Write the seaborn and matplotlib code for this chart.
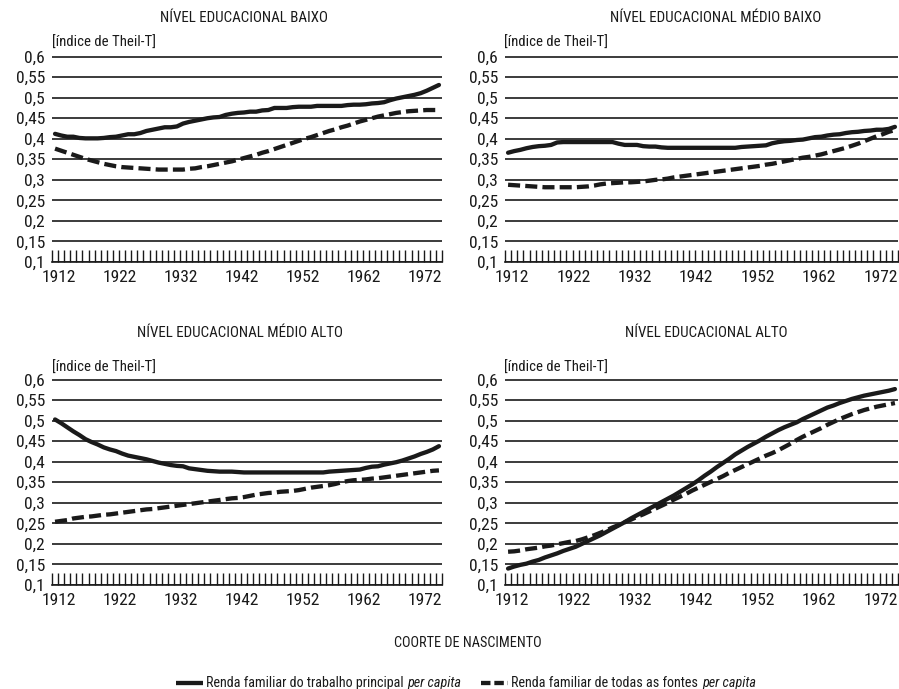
import numpy as np
import pandas as pd
import matplotlib
matplotlib.use("Agg")
import matplotlib.pyplot as plt
from matplotlib import font_manager
from matplotlib.lines import Line2D
from matplotlib.transforms import ScaledTranslation
import seaborn as sns

# ---------------- data ----------------
years = list(range(1912, 1976))

titles = ["NÍVEL EDUCACIONAL BAIXO", "NÍVEL EDUCACIONAL MÉDIO BAIXO",
          "NÍVEL EDUCACIONAL MÉDIO ALTO", "NÍVEL EDUCACIONAL ALTO"]
series_names = ["Renda familiar do trabalho principal per capita",
                "Renda familiar de todas as fontes per capita"]
legend_main = ["Renda familiar do trabalho principal", "Renda familiar de todas as fontes"]
legend_italic = "per capita"
y_unit = "[índice de Theil-T]"
x_title = "COORTE DE NASCIMENTO"
y_ticks = [0.1, 0.15, 0.2, 0.25, 0.3, 0.35, 0.4, 0.45, 0.5, 0.55, 0.6]
y_tick_labels = ["0,1", "0,15", "0,2", "0,25", "0,3", "0,35", "0,4", "0,45", "0,5", "0,55", "0,6"]
x_tick_years = [1912, 1922, 1932, 1942, 1952, 1962, 1972]

baixo_principal = [
    0.412, 0.408, 0.405, 0.405, 0.402, 0.401, 0.401, 0.401, 0.402, 0.404,
    0.405, 0.408, 0.411, 0.411, 0.414, 0.419, 0.422, 0.425, 0.428, 0.428,
    0.430, 0.437, 0.441, 0.444, 0.447, 0.450, 0.452, 0.453, 0.458, 0.461,
    0.463, 0.464, 0.466, 0.466, 0.469, 0.470, 0.475, 0.475, 0.475, 0.477,
    0.478, 0.478, 0.478, 0.480, 0.480, 0.480, 0.480, 0.480, 0.482, 0.483,
    0.483, 0.484, 0.486, 0.487, 0.489, 0.494, 0.498, 0.501, 0.504, 0.507,
    0.511, 0.517, 0.524, 0.531]
baixo_todas = [
    0.376, 0.371, 0.366, 0.361, 0.356, 0.351, 0.347, 0.343, 0.339, 0.336,
    0.333, 0.331, 0.330, 0.329, 0.328, 0.327, 0.326, 0.325, 0.325, 0.325,
    0.325, 0.325, 0.327, 0.328, 0.331, 0.333, 0.336, 0.339, 0.342, 0.345,
    0.349, 0.353, 0.357, 0.361, 0.366, 0.370, 0.375, 0.380, 0.385, 0.390,
    0.395, 0.400, 0.404, 0.409, 0.414, 0.419, 0.423, 0.428, 0.432, 0.437,
    0.442, 0.446, 0.450, 0.454, 0.457, 0.460, 0.463, 0.465, 0.467, 0.468,
    0.469, 0.470, 0.470, 0.470]

medio_baixo_principal = [
    0.366, 0.370, 0.373, 0.377, 0.380, 0.382, 0.383, 0.385, 0.391, 0.392,
    0.392, 0.392, 0.392, 0.392, 0.392, 0.392, 0.392, 0.392, 0.388, 0.385,
    0.385, 0.385, 0.382, 0.381, 0.381, 0.379, 0.378, 0.378, 0.378, 0.378,
    0.378, 0.378, 0.378, 0.378, 0.378, 0.378, 0.378, 0.378, 0.380, 0.381,
    0.382, 0.383, 0.384, 0.389, 0.392, 0.394, 0.395, 0.397, 0.398, 0.401,
    0.404, 0.405, 0.408, 0.410, 0.411, 0.414, 0.416, 0.417, 0.419, 0.420,
    0.422, 0.422, 0.424, 0.429]
medio_baixo_todas = [
    0.288, 0.287, 0.286, 0.285, 0.284, 0.283, 0.282, 0.282, 0.282, 0.282,
    0.282, 0.282, 0.283, 0.284, 0.286, 0.289, 0.291, 0.292, 0.293, 0.294,
    0.294, 0.295, 0.296, 0.298, 0.300, 0.301, 0.303, 0.306, 0.308, 0.310,
    0.312, 0.314, 0.316, 0.318, 0.320, 0.322, 0.324, 0.326, 0.328, 0.330,
    0.332, 0.334, 0.337, 0.339, 0.342, 0.345, 0.348, 0.351, 0.354, 0.356,
    0.359, 0.362, 0.366, 0.370, 0.374, 0.378, 0.383, 0.388, 0.394, 0.400,
    0.406, 0.411, 0.417, 0.421]

medio_alto_principal = [
    0.503, 0.494, 0.484, 0.474, 0.465, 0.455, 0.448, 0.442, 0.435, 0.430,
    0.426, 0.420, 0.415, 0.412, 0.409, 0.406, 0.402, 0.398, 0.395, 0.392,
    0.390, 0.389, 0.384, 0.382, 0.380, 0.378, 0.377, 0.376, 0.376, 0.376,
    0.375, 0.374, 0.374, 0.374, 0.374, 0.374, 0.374, 0.374, 0.374, 0.374,
    0.374, 0.374, 0.374, 0.374, 0.374, 0.376, 0.377, 0.378, 0.379, 0.380,
    0.381, 0.385, 0.388, 0.389, 0.393, 0.396, 0.399, 0.403, 0.408, 0.413,
    0.419, 0.424, 0.430, 0.438]
medio_alto_todas = [
    0.254, 0.256, 0.258, 0.262, 0.264, 0.266, 0.267, 0.269, 0.271, 0.272,
    0.274, 0.276, 0.278, 0.280, 0.282, 0.284, 0.285, 0.287, 0.289, 0.291,
    0.293, 0.295, 0.297, 0.299, 0.301, 0.303, 0.305, 0.307, 0.309, 0.311,
    0.312, 0.314, 0.317, 0.320, 0.322, 0.324, 0.325, 0.327, 0.328, 0.329,
    0.331, 0.334, 0.337, 0.339, 0.341, 0.343, 0.346, 0.350, 0.353, 0.355,
    0.356, 0.357, 0.359, 0.360, 0.362, 0.364, 0.366, 0.368, 0.370, 0.372,
    0.374, 0.376, 0.378, 0.379]

alto_principal = [
    0.140, 0.145, 0.149, 0.152, 0.157, 0.161, 0.167, 0.172, 0.177, 0.183,
    0.188, 0.193, 0.200, 0.207, 0.214, 0.221, 0.229, 0.237, 0.245, 0.253,
    0.262, 0.270, 0.278, 0.286, 0.294, 0.302, 0.310, 0.318, 0.327, 0.336,
    0.345, 0.355, 0.366, 0.376, 0.387, 0.397, 0.407, 0.418, 0.427, 0.436,
    0.444, 0.452, 0.461, 0.469, 0.477, 0.484, 0.490, 0.496, 0.504, 0.511,
    0.518, 0.525, 0.532, 0.537, 0.543, 0.548, 0.553, 0.557, 0.561, 0.564,
    0.567, 0.570, 0.573, 0.577]
alto_todas = [
    0.181, 0.182, 0.184, 0.187, 0.189, 0.191, 0.194, 0.196, 0.199, 0.202,
    0.205, 0.207, 0.211, 0.216, 0.221, 0.227, 0.233, 0.240, 0.246, 0.253,
    0.259, 0.266, 0.272, 0.279, 0.286, 0.293, 0.300, 0.308, 0.315, 0.322,
    0.330, 0.337, 0.344, 0.351, 0.358, 0.365, 0.373, 0.380, 0.387, 0.394,
    0.401, 0.408, 0.415, 0.421, 0.428, 0.436, 0.444, 0.453, 0.461, 0.468,
    0.475, 0.482, 0.490, 0.497, 0.504, 0.510, 0.516, 0.521, 0.526, 0.530,
    0.534, 0.537, 0.540, 0.543]

panels = [
    (baixo_principal, baixo_todas),
    (medio_baixo_principal, medio_baixo_todas),
    (medio_alto_principal, medio_alto_todas),
    (alto_principal, alto_todas),
]

# ---------------- style ----------------
sns.set_theme(style="white")
available = {f.name for f in font_manager.fontManager.ttflist}
narrow_candidates = ["Liberation Sans Narrow", "Roboto Condensed", "Open Sans Condensed",
                     "DejaVu Sans Condensed"]
chosen = next((c for c in narrow_candidates if c in available), None)
if chosen is not None:
    FS = dict(tick=12.6, title=10.8, unit=10.6, xt=10.3, leg=10.2)
else:
    chosen = "Open Sans" if "Open Sans" in available else "DejaVu Sans"
    FS = dict(tick=11.0, title=9.9, unit=9.6, xt=9.4, leg=9.0)

plt.rcParams["font.family"] = [chosen, "DejaVu Sans"]
INK = "#1a1a1a"
plt.rcParams["text.color"] = INK

W, H = 899, 689
fig = plt.figure(figsize=(W / 100, H / 100), dpi=100)

def box(x0, x1, ytop, ybot):
    return [x0 / W, 1 - ybot / H, (x1 - x0) / W, (ybot - ytop) / H]

ax_boxes = [box(52, 442, 56, 262), box(505, 898, 56, 262),
            box(52, 442, 379, 585), box(505, 898, 379, 585)]
title_pos = [(244, 18), (716, 18), (240, 333), (706, 333)]
unit_pos = [(52, 43), (504, 43), (52, 368), (504, 368)]

LW = 3.1
DASH = (2.8, 1.2)
style_dashes = {series_names[0]: "", series_names[1]: DASH}

for i, (vals_a, vals_b) in enumerate(panels):
    ax = fig.add_axes(ax_boxes[i])
    df = pd.DataFrame({
        "ano": years + years,
        "theil": list(vals_a) + list(vals_b),
        "serie": [series_names[0]] * len(years) + [series_names[1]] * len(years),
    })
    sns.lineplot(data=df, x="ano", y="theil", style="serie",
                 style_order=series_names, dashes=style_dashes,
                 color=INK, linewidth=LW, legend=False, ax=ax, zorder=3)
    ax.set_xlim(1911.5, 1975.5)
    ax.set_ylim(0.1, 0.6015)
    ax.set_yticks(y_ticks)
    ax.set_yticklabels(y_tick_labels)
    ax.set_xticks(x_tick_years)
    ax.set_xticklabels([str(y) for y in x_tick_years])
    ax.set_xticks([y - 0.5 for y in years] + [years[-1] + 0.5], minor=True)
    ax.tick_params(axis="y", length=0, pad=5, labelsize=FS["tick"], labelcolor=INK)
    ax.tick_params(axis="x", which="major", length=0, pad=6, labelsize=FS["tick"],
                   labelcolor=INK)
    ax.tick_params(axis="x", which="minor", direction="in", length=8.5,
                   width=1.0, color=INK, bottom=True)
    ax.set_xlabel("")
    ax.set_ylabel("")
    ax.yaxis.grid(True, color=INK, linewidth=1.2)
    ax.xaxis.grid(False)
    for s in ["top", "left", "right"]:
        ax.spines[s].set_visible(False)
    ax.spines["bottom"].set_color(INK)
    ax.spines["bottom"].set_linewidth(1.2)
    ax.set_facecolor("white")
    off = ScaledTranslation(0.04, 0, fig.dpi_scale_trans)
    for lab in ax.get_xticklabels():
        lab.set_transform(lab.get_transform() + off)

    tx, ty = title_pos[i]
    fig.text(tx / W, 1 - ty / H, titles[i], ha="center", va="center", fontsize=FS["title"])
    ux, uy = unit_pos[i]
    fig.text(ux / W, 1 - uy / H, y_unit, ha="left", va="center", fontsize=FS["unit"])

fig.text(468 / W, 1 - 643 / H, x_title, ha="center", va="center", fontsize=FS["xt"])

# ---------------- legend (handle + regular text + italic text) ----------------
fig.canvas.draw()
renderer = fig.canvas.get_renderer()
leg_y = 1 - 683 / H
handle_px = 27
pad_px = 3
gap_px = 20
space_px = 4

def text_width(t):
    return t.get_window_extent(renderer=renderer).width

# measure total width first
tmp = []
widths = []
for main in legend_main:
    t1 = fig.text(0, 0, main, fontsize=FS["leg"])
    t2 = fig.text(0, 0, legend_italic, fontsize=FS["leg"], style="italic")
    widths.append((text_width(t1), text_width(t2)))
    tmp += [t1, t2]
for t in tmp:
    t.remove()
total = sum(handle_px + pad_px + a + space_px + b for a, b in widths) + gap_px
x = 466 - total / 2
leg_styles = ["-", (0, (2.2, 0.9))]
for k, main in enumerate(legend_main):
    ln = Line2D([x / W, (x + handle_px) / W], [leg_y, leg_y], transform=fig.transFigure,
                color=INK, linewidth=LW, linestyle=leg_styles[k], solid_capstyle="butt",
                dash_capstyle="butt")
    fig.add_artist(ln)
    x += handle_px + pad_px
    fig.text(x / W, leg_y, main, ha="left", va="center", fontsize=FS["leg"])
    x += widths[k][0] + space_px
    fig.text(x / W, leg_y, legend_italic, ha="left", va="center", fontsize=FS["leg"],
             style="italic")
    x += widths[k][1] + gap_px

fig.savefig("out.png", dpi=100, facecolor="white")
